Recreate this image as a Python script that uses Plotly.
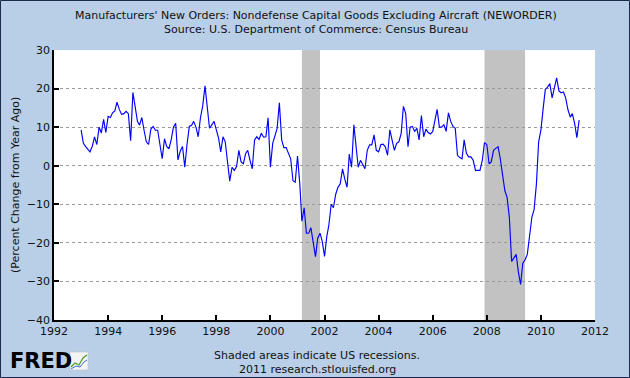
import pandas as pd
import plotly.graph_objects as go

# Monthly % change from year ago, Jan 1993 .. Jun 2011
v1993 = [9.3, 5.8, 5.0, 4.3, 3.6, 5.0, 7.5, 5.5, 10.0, 8.5, 12.0, 8.6]
v1994 = [12.8, 12.5, 13.7, 14.2, 16.5, 14.6, 13.3, 13.5, 14.1, 13.5, 6.5, 19.0]
v1995 = [15.4, 11.5, 10.5, 12.5, 9.2, 6.2, 5.5, 9.5, 10.2, 9.2, 9.2, 4.9]
v1996 = [1.8, 7.0, 5.0, 4.4, 6.7, 10.0, 11.0, 1.5, 3.8, 5.0, -0.4, 5.5]
v1997 = [10.2, 10.5, 11.5, 10.0, 7.5, 12.5, 15.5, 20.7, 14.1, 9.7, 10.6, 11.5]
v1998 = [9.3, 7.1, 3.6, 7.5, 6.2, 0.5, -4.0, -0.4, -1.2, -0.2, 4.0, 1.0]
v1999 = [0.5, 3.2, 4.0, 1.4, -0.8, 6.7, 7.5, 6.8, 8.4, 7.4, 7.5, 12.4]
v2000 = [-0.4, 5.8, 7.5, 9.7, 16.3, 6.7, 4.7, 4.7, 3.2, 1.8, -3.9, -4.3]
v2001 = [2.5, -4.7, -14.4, -10.9, -17.5, -17.5, -16.1, -19.6, -23.6, -18.8, -17.5, -19.6]
v2002 = [-23.5, -18.3, -15.3, -10.0, -10.9, -7.4, -5.6, -4.7, -0.8, -3.4, -5.6, 3.0]
v2003 = [-0.4, 10.6, 5.0, -0.4, 1.4, 0.4, -0.8, 4.0, 5.4, 5.4, 8.0, 4.0]
v2004 = [3.6, 5.5, 5.6, 4.9, 2.7, 9.3, 6.2, 4.0, 5.8, 6.2, 8.4, 15.4]
v2005 = [13.5, 4.9, 10.0, 10.2, 8.9, 9.7, 6.7, 13.0, 7.5, 9.5, 8.6, 8.2]
v2006 = [8.9, 12.4, 14.6, 10.0, 10.0, 10.6, 8.9, 13.7, 11.5, 10.2, 9.7, 2.7]
v2007 = [2.1, 1.8, 6.7, 3.2, 2.3, 2.3, 1.4, -1.2, -1.2, -1.2, 1.4, 6.0]
v2008 = [5.5, 0.5, 1.0, 4.0, 4.5, 4.9, 1.8, -2.6, -6.5, -8.2, -13.5, -24.8]
v2009 = [-24.0, -23.0, -27.4, -30.8, -25.3, -24.4, -23.0, -17.4, -13.3, -11.3, -4.7, 6.2]
v2010 = [9.3, 15.0, 19.8, 20.4, 21.3, 17.6, 20.5, 22.8, 19.4, 18.9, 19.1, 17.6]
v2011 = [14.5, 12.6, 13.5, 11.0, 7.3, 11.8]

values = (v1993 + v1994 + v1995 + v1996 + v1997 + v1998 + v1999 + v2000 + v2001
          + v2002 + v2003 + v2004 + v2005 + v2006 + v2007 + v2008 + v2009 + v2010 + v2011)
dates = pd.date_range("1993-01-01", periods=len(values), freq="MS")

recession_starts = ["2001-03-01", "2007-12-01"]
recession_ends = ["2001-11-01", "2009-06-01"]

x_tick_vals = ["1992-01-01", "1994-01-01", "1996-01-01", "1998-01-01", "2000-01-01",
               "2002-01-01", "2004-01-01", "2006-01-01", "2008-01-01", "2010-01-01", "2012-01-01"]
x_tick_text = ["1992", "1994", "1996", "1998", "2000", "2002", "2004", "2006", "2008", "2010", "2012"]
y_tick_vals = [30, 20, 10, 0, -10, -20, -30, -40]

FONT = "DejaVu Sans"
BG = "#B8CFE7"

fig = go.Figure()
fig.add_trace(go.Scatter(x=dates, y=values, mode="lines",
                         line=dict(color="#0000FF", width=1.15), hoverinfo="skip"))

for s, e in zip(recession_starts, recession_ends):
    fig.add_shape(type="rect", xref="x", yref="paper", x0=s, x1=e, y0=0, y1=1,
                  fillcolor="#C2C2C2", line=dict(width=0), layer="below")

# Plot area geometry (px) for paper-coordinate decorations
L, R, T, B = 54, 35, 50, 58
W, H = 630, 378
pw, ph = W - L - R, H - T - B
def px(x):
    return (x - L) / pw
def py(y):
    return (H - B - y) / ph

# outer border
fig.add_shape(type="rect", xref="paper", yref="paper", x0=px(0.5), x1=px(629.5),
              y0=py(0.5), y1=py(377.5), line=dict(color="#1A2A4A", width=1))

# FRED logo icon
fig.add_shape(type="rect", xref="paper", yref="paper", x0=px(70), x1=px(88),
              y0=py(370), y1=py(352), fillcolor="#F4F4F4", line=dict(color="#BBBBBB", width=0.5))
fig.add_shape(type="path", xref="paper", yref="paper",
              path=f"M {px(71)} {py(367)} L {px(75)} {py(363)} L {px(79)} {py(365)} L {px(83)} {py(358)} L {px(87)} {py(355)}",
              line=dict(color="#4C9A2A", width=1.2))
fig.add_shape(type="path", xref="paper", yref="paper",
              path=f"M {px(71)} {py(369)} L {px(76)} {py(366)} L {px(80)} {py(367)} L {px(84)} {py(362)} L {px(87)} {py(360)}",
              line=dict(color="#3A6FC4", width=1))

annos = [
    dict(text="Manufacturers' New Orders: Nondefense Capital Goods Excluding Aircraft (NEWORDER)",
         x=px(316), y=py(16), size=11),
    dict(text="Source: U.S. Department of Commerce: Census Bureau", x=px(316), y=py(30), size=11),
    dict(text="Shaded areas indicate US recessions.", x=px(317), y=py(355), size=11),
    dict(text="2011 research.stlouisfed.org", x=px(317), y=py(369), size=11),
]
for a in annos:
    fig.add_annotation(text=a["text"], xref="paper", yref="paper", x=a["x"], y=a["y"],
                       xanchor="center", yanchor="middle", showarrow=False,
                       font=dict(family=FONT, size=a["size"], color="#111111"))
fig.add_annotation(text="(Percent Change from Year Ago)", xref="paper", yref="paper",
                   x=px(15), y=py(185), textangle=-90, showarrow=False,
                   xanchor="center", yanchor="middle",
                   font=dict(family=FONT, size=11, color="#111111"))
fig.add_annotation(text="<b>FRED</b>", xref="paper", yref="paper", x=px(8), y=py(361),
                   xanchor="left", yanchor="middle", showarrow=False,
                   font=dict(family=FONT, size=21, color="#000000"))

fig.update_layout(
    width=W, height=H, autosize=False,
    margin=dict(l=L, r=R, t=T, b=B, pad=0),
    paper_bgcolor=BG, plot_bgcolor="#FFFFFF",
    showlegend=False,
    font=dict(family=FONT, size=11, color="#111111"),
)
fig.update_xaxes(type="date", range=["1992-01-01", "2012-01-01"],
                 tickvals=x_tick_vals, ticktext=x_tick_text,
                 showgrid=False, zeroline=False, showline=True, linecolor="#000000", linewidth=1.5,
                 ticks="inside", ticklen=5, tickcolor="#000000", tickwidth=1.5,
                 tickfont=dict(family=FONT, size=11, color="#111111"))
fig.update_yaxes(range=[-40, 30], tickvals=y_tick_vals,
                 showgrid=True, gridcolor="#9A9A9A", griddash="dot", gridwidth=1,
                 zeroline=False, showline=True, linecolor="#000000", linewidth=1.5,
                 ticks="inside", ticklen=5, tickcolor="#000000", tickwidth=1.5,
                 tickfont=dict(family=FONT, size=11, color="#111111"))

fig.write_html("out.html", config={"displayModeBar": False},
               post_script="document.body.style.margin='0px';document.body.style.padding='0px';")
